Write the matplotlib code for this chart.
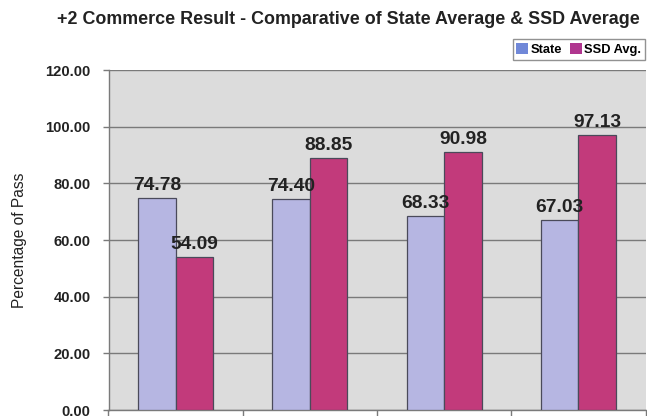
import matplotlib
matplotlib.use("Agg")
import matplotlib.pyplot as plt
from matplotlib.patches import Patch
import numpy as np

plt.rcParams['font.family'] = ['Liberation Sans', 'DejaVu Sans']

title = "+2 Commerce Result - Comparative of State Average & SSD Average"
series_names = ["State", "SSD Avg."]
state = [74.78, 74.40, 68.33, 67.03]
ssd = [54.09, 88.85, 90.98, 97.13]
yticks = [0, 20, 40, 60, 80, 100, 120]

state_color = "#b6b6e2"
ssd_color = "#c23a7b"

fig = plt.figure(figsize=6.47 * np.array([1, 416 / 647]), dpi=100)
ax = fig.add_axes([108.5 / 647, 1 - 410 / 416, (645.5 - 108.5) / 647, 340 / 416])
ax.set_facecolor("#dcdcdc")

n = len(state)
x = np.arange(n)
w = 0.28
ax.bar(x - w / 2, state, w, color=state_color, edgecolor="#4a4a5a", linewidth=0.9, zorder=3)
ax.bar(x + w / 2, ssd, w, color=ssd_color, edgecolor="#4a4a5a", linewidth=0.9, zorder=3)

for xi, v in zip(x - w / 2, state):
    ax.annotate(f"{v:.2f}", (xi, v), xytext=(0, 3), textcoords="offset points",
                ha="center", va="bottom", fontsize=13.8, fontweight="bold", color="#222222", zorder=4)
for xi, v in zip(x + w / 2, ssd):
    ax.annotate(f"{v:.2f}", (xi, v), xytext=(0, 3), textcoords="offset points",
                ha="center", va="bottom", fontsize=13.8, fontweight="bold", color="#222222", zorder=4)

ax.set_xlim(-0.5, n - 0.5)
ax.set_ylim(0, 120)
ax.set_yticks(yticks)
ax.set_yticklabels([f"{t:.2f}" for t in yticks], fontsize=10.6, fontweight="bold", color="#222222")
ax.yaxis.grid(True, color="#7a7a7a", linewidth=1.0, zorder=0)
ax.set_axisbelow(True)
ax.tick_params(axis="y", length=4, width=1, color="#7a7a7a", pad=9)
ax.set_xticks(np.arange(n + 1) - 0.5)
ax.set_xticklabels([])
ax.tick_params(axis="x", length=6, width=1, color="#7a7a7a")
for s in ["top", "right"]:
    ax.spines[s].set_visible(False)
for s in ["left", "bottom"]:
    ax.spines[s].set_color("#7a7a7a")
    ax.spines[s].set_linewidth(1.0)

ax.set_ylabel("Percentage of Pass", fontsize=11.2, color="#222222")
ax.yaxis.set_label_coords((27 - 108.5) / 537, 0.5)

fig.text(348 / 647, 1 - 19 / 416, title, ha="center", va="center",
         fontsize=12.9, fontweight="bold", color="#222222")

handles = [Patch(facecolor="#7088d8", edgecolor="none"), Patch(facecolor="#b0368f", edgecolor="none")]
leg = fig.legend(handles, series_names, loc="upper right", bbox_to_anchor=(645 / 647, 1 - 39 / 416),
                 ncol=2, prop={"weight": "bold", "size": 9.3}, frameon=True, fancybox=False,
                 handlelength=0.9, handleheight=0.9, handletextpad=0.2, columnspacing=0.6,
                 borderpad=0.3, borderaxespad=0)
leg.get_frame().set_edgecolor("#777777")
leg.get_frame().set_linewidth(1.0)

fig.savefig("out.png", dpi=100, facecolor="white")
